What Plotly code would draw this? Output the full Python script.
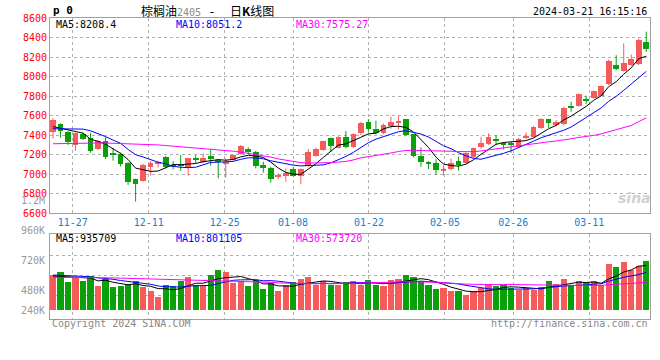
import plotly.graph_objects as go

# ---------------- data ----------------
dates = (
    ["2023-11-%02d" % d for d in (22, 23, 24, 27, 28, 29, 30)]
    + ["2023-12-%02d" % d for d in (1, 4, 5, 6, 7, 8, 11, 12, 13, 14, 15, 18, 19, 20, 21, 22, 25, 26, 27, 28, 29)]
    + ["2024-01-%02d" % d for d in (2, 3, 4, 5, 8, 9, 10, 11, 12, 15, 16, 17, 18, 19, 22, 23, 24, 25, 26, 29, 30, 31)]
    + ["2024-02-%02d" % d for d in (1, 2, 5, 6, 7, 8, 19, 20, 21, 22, 23, 26, 27, 28, 29)]
    + ["2024-03-%02d" % d for d in (1, 4, 5, 6, 7, 8, 11, 12, 13, 14, 15, 18, 19, 20, 21)]
)

open_ = [7428, 7513, 7432, 7300, 7411, 7368, 7258, 7340, 7220, 7207,
         7111, 6951, 6931, 7070, 7111, 7180, 7091, 7104, 7077, 7155,
         7121, 7190, 7142, 7115, 7145, 7207, 7254, 7224, 7094, 7060,
         6972, 6985, 7050, 6982, 7087, 7190, 7248, 7374, 7272, 7381,
         7282, 7425, 7531, 7462, 7418, 7496, 7527, 7565, 7411, 7190,
         7128, 7118, 7036, 7056, 7135, 7118, 7173, 7274, 7307, 7357,
         7316, 7312, 7280, 7378, 7384, 7472, 7565, 7500, 7510, 7690,
         7700, 7765, 7785, 7805, 7925, 8120, 8058, 8117, 8134, 8355]
high = [7575, 7520, 7440, 7425, 7428, 7425, 7350, 7380, 7270, 7222,
        7125, 6955, 7108, 7135, 7138, 7186, 7135, 7196, 7165, 7196,
        7213, 7254, 7152, 7162, 7203, 7300, 7275, 7240, 7128, 7077,
        7010, 7060, 7075, 7060, 7258, 7272, 7345, 7376, 7390, 7442,
        7418, 7537, 7565, 7548, 7520, 7589, 7599, 7565, 7411, 7275,
        7135, 7152, 7090, 7160, 7180, 7225, 7275, 7384, 7418, 7401,
        7330, 7335, 7370, 7428, 7495, 7575, 7568, 7555, 7691, 7742,
        7825, 7805, 7858, 7910, 8175, 8219, 8340, 8226, 8390, 8460]
low = [7367, 7375, 7300, 7240, 7350, 7220, 7250, 7156, 7139, 7080,
       6890, 6720, 6924, 6985, 7070, 7060, 7050, 7036, 6985, 7111,
       7118, 7087, 6958, 6965, 7138, 7200, 7207, 7060, 7016, 6914,
       6950, 6924, 6975, 6897, 7077, 7180, 7240, 7231, 7265, 7265,
       7270, 7401, 7435, 7408, 7410, 7469, 7459, 7390, 7173, 7077,
       7053, 6992, 6988, 7040, 7036, 7110, 7165, 7265, 7299, 7299,
       7255, 7220, 7275, 7357, 7380, 7465, 7476, 7488, 7500, 7640,
       7695, 7720, 7775, 7800, 7912, 8066, 8050, 8110, 8117, 8253]
close = [7555, 7440, 7330, 7418, 7360, 7240, 7340, 7175, 7203, 7110,
         6924, 6900, 7094, 7118, 7128, 7077, 7084, 7080, 7162, 7150,
         7162, 7155, 7121, 7130, 7192, 7292, 7235, 7080, 7062, 6950,
         6989, 7016, 6985, 7053, 7224, 7258, 7340, 7289, 7384, 7282,
         7411, 7527, 7462, 7418, 7503, 7531, 7544, 7401, 7190, 7128,
         7111, 7043, 7050, 7115, 7094, 7215, 7268, 7323, 7377, 7350,
         7308, 7306, 7362, 7395, 7486, 7565, 7522, 7534, 7674, 7684,
         7820, 7760, 7848, 7902, 8155, 8076, 8140, 8176, 8370, 8282]
volume = [741000, 789000, 581000, 693000, 616000, 706000, 498000, 652000, 477000, 512000,
          548000, 602000, 477000, 394000, 270000, 533000, 498000, 602000, 685000, 533000,
          533000, 726000, 845000, 789000, 568000, 616000, 512000, 637000, 450000, 568000,
          409000, 533000, 581000, 658000, 699000, 533000, 616000, 533000, 533000, 581000,
          616000, 533000, 637000, 519000, 498000, 637000, 658000, 741000, 685000, 602000,
          533000, 450000, 465000, 394000, 394000, 326000, 394000, 465000, 519000, 498000,
          533000, 465000, 430000, 465000, 430000, 477000, 616000, 554000, 658000, 533000,
          600000, 580000, 610000, 530000, 969000, 907000, 996000, 830000, 928000, 1017000]

ma5_head = [7488, 7472, 7455, 7440]
ma10_head = [7466, 7466, 7465, 7464, 7462, 7445, 7418, 7385, 7350]
ma30_head = [7312, 7314, 7318, 7320, 7320, 7320, 7320, 7320, 7318, 7316,
             7314, 7312, 7308, 7304, 7300, 7294, 7288, 7282, 7276, 7270,
             7264, 7258, 7252, 7244, 7236, 7226, 7214, 7200, 7186]
vma5_head = [720000, 712000, 700000, 690000]
vma10_head = [740000, 736000, 730000, 722000, 712000, 700000, 688000, 672000, 652000]
vma30_head = [693000, 693000, 692000, 691000, 690000, 688000, 686000, 683000, 680000, 676000,
              672000, 668000, 664000, 660000, 656000, 652000, 648000, 644000, 640000, 636000,
              632000, 628000, 624000, 620000, 615000, 610000, 604000, 598000, 592000]

tick_labels = ["11-27", "12-11", "12-25", "01-08", "01-22", "02-05", "02-26", "03-11"]
price_ma_text = ["MA5:8208.4", "MA10:8051.2", "MA30:7575.27"]
vol_ma_text = ["MA5:935709", "MA10:801105", "MA30:573720"]
vol_axis_labels = ["1.2M", "960K", "720K", "480K", "240K"]
title_name, title_code, title_sep, title_day, title_k, title_tail = "棕榈油", "2405", " -  ", "日", "K", "线图"
symbol_text = "p 0"
stamp_text = "2024-03-21 16:15:16"
copyright_text = "Copyright 2024 SINA.COM"
url_text = "http://finance.sina.com.cn"


def moving_avg(values, n, head):
    out = list(head)
    for i in range(len(head), len(values)):
        out.append(sum(values[i - n + 1:i + 1]) / n)
    return out


# ---------------- styling ----------------
RED = "#f65b5b"
GREEN = "#0aa00a"
MONO = "DejaVu Sans Mono"
CJK = "Noto Sans CJK SC"
GRID = "#b0b0b0"
FRAME = "#a0a0a0"

W, H = 660, 360
L, R, T, B = 50, 10, 18, 41
PW, PH = W - L - R, H - T - B


def px(x):
    return (x - L) / PW


def py(y):
    return (H - B - y) / PH


n = len(dates)
idx = list(range(n))
up = [c >= o for o, c in zip(open_, close)]
colors = [RED if u else GREEN for u in up]

fig = go.Figure()

# candle bodies
fig.add_trace(go.Bar(
    x=idx, base=[min(o, c) for o, c in zip(open_, close)],
    y=[max(abs(c - o), 9) for o, c in zip(open_, close)],
    width=0.76, marker=dict(color=colors, line=dict(width=0)),
    xaxis="x", yaxis="y", hoverinfo="skip"))

# wicks
for col, flag in ((RED, True), (GREEN, False)):
    wx, wy = [], []
    for i in idx:
        if up[i] == flag:
            wx += [i, i, None]
            wy += [low[i], high[i], None]
    fig.add_trace(go.Scatter(x=wx, y=wy, mode="lines", line=dict(color=col, width=1),
                             xaxis="x", yaxis="y", hoverinfo="skip"))

# price MAs
for vals, nwin, head, col in ((close, 5, ma5_head, "#000000"), (close, 10, ma10_head, "#0000ff"),
                              (close, 30, ma30_head, "#ff00ff")):
    fig.add_trace(go.Scatter(x=idx, y=moving_avg(vals, nwin, head), mode="lines",
                             line=dict(color=col, width=1), xaxis="x", yaxis="y", hoverinfo="skip"))

# volume bars
fig.add_trace(go.Bar(x=idx, y=volume, width=0.82, marker=dict(color=colors, line=dict(width=0)),
                     xaxis="x2", yaxis="y2", hoverinfo="skip"))
for vals, nwin, head, col in ((volume, 5, vma5_head, "#000000"), (volume, 10, vma10_head, "#0000ff"),
                              (volume, 30, vma30_head, "#ff00ff")):
    fig.add_trace(go.Scatter(x=idx, y=moving_avg(vals, nwin, head), mode="lines",
                             line=dict(color=col, width=1), xaxis="x2", yaxis="y2", hoverinfo="skip"))

# date grid axes (Sina spaces its date grid over n-1 intervals)
tick_pos = [i for lab in tick_labels for i, d in enumerate(dates) if d[5:] == lab]
fig.add_trace(go.Scatter(x=tick_pos, y=[close[0]] * len(tick_pos), mode="markers",
                         marker=dict(opacity=0), xaxis="x3", yaxis="y", hoverinfo="skip"))
fig.add_trace(go.Scatter(x=tick_pos, y=[volume[0]] * len(tick_pos), mode="markers",
                         marker=dict(opacity=0), xaxis="x4", yaxis="y2", hoverinfo="skip"))

price_dom = [py(213.3), 1]
vol_dom = [0, py(234.3)]
VPP = 20750  # volume per pixel
vol_base_px = 310.7
vol_range = [-(H - B - vol_base_px) * VPP, (vol_base_px - 234.3) * VPP]
vol_grid = [(vol_base_px - y) * VPP for y in (295, 275, 255)]

xcommon = dict(showgrid=False, zeroline=False, showticklabels=False, ticks="", fixedrange=True,
               automargin=False)
gridstyle = dict(showgrid=True, gridcolor=GRID, griddash="dot", gridwidth=1, zeroline=False,
                 showline=True, linecolor=FRAME, linewidth=1, mirror=True, ticks="",
                 fixedrange=True, automargin=False)
fig.update_layout(
    template="none",
    width=W, height=H, margin=dict(l=L, r=R, t=T, b=B, autoexpand=False),
    paper_bgcolor="white", plot_bgcolor="white", showlegend=False,
    barmode="overlay", bargap=0,
    xaxis=dict(domain=[0, 1], anchor="y", range=[-0.4, n - 0.5], **xcommon),
    xaxis2=dict(domain=[0, 1], anchor="y2", range=[-0.4, n - 0.5], **xcommon),
    xaxis3=dict(overlaying="x", anchor="y", range=[0, n - 1], tickvals=tick_pos, ticktext=tick_labels,
                tickfont=dict(family=MONO, size=10, color="#1580d0"), **gridstyle),
    xaxis4=dict(overlaying="x2", anchor="y2", range=[0, n - 1], tickvals=tick_pos,
                showticklabels=False, **gridstyle),
    yaxis=dict(domain=price_dom, range=[6600, 8600], tick0=6600, dtick=200,
               tickfont=dict(family=MONO, size=10, color="#ff0000"), **gridstyle),
    yaxis2=dict(domain=vol_dom, range=vol_range, tickvals=vol_grid, showticklabels=False, **gridstyle),
)

ann = []


def text(x, y, s, color="#000", size=10, anchor="left", family=MONO):
    ann.append(dict(x=px(x), y=py(y), xref="paper", yref="paper", text=s, showarrow=False,
                    xanchor=anchor, yanchor="middle", font=dict(family=family, size=size, color=color)))


# header
text(50.5, 10.5, "<b>%s</b>" % symbol_text, size=11)
text(139, 10.8,
     '<span style="font-family:%s">%s</span>'
     '<span style="font-family:%s;font-size:10px;color:#888">%s</span>'
     '<span style="font-family:%s;font-size:12px">%s</span>'
     '<span style="font-family:%s">%s</span><b>%s</b><span style="font-family:%s">%s</span>'
     % (CJK, title_name, MONO, title_code, MONO, title_sep.replace(" ", "&nbsp;"),
        CJK, title_day, title_k, CJK, title_tail),
     size=12, family=CJK)
text(648.5, 11.7, stamp_text, anchor="right")
# MA legends
for s, x, col in zip(price_ma_text, (53.5, 173.5, 293.5), ("#000", "#0000ff", "#ff00ff")):
    text(x, 24, s, color=col)
for s, x, col in zip(vol_ma_text, (53.5, 173.5, 293.5), ("#000", "#0000ff", "#ff00ff")):
    text(x, 238.5, s, color=col)
# volume axis labels
for s, y in zip(vol_axis_labels, (200.8, 230.3, 260.8, 290, 310)):
    text(47, y, s, color="#999", anchor="right")
# footer
text(49.5, 323.3, copyright_text, color="#888")
text(649.5, 323.8, url_text, color="#888", anchor="right")
# watermark
text(634, 198, "<b><i>sina</i></b>", color="#d0d0d0", size=14, anchor="center", family="DejaVu Sans")

fig.update_layout(annotations=ann)
fig.write_html("out.html", config={"displayModeBar": False},
               post_script="document.body.style.margin='0';document.body.style.overflow='hidden';")
